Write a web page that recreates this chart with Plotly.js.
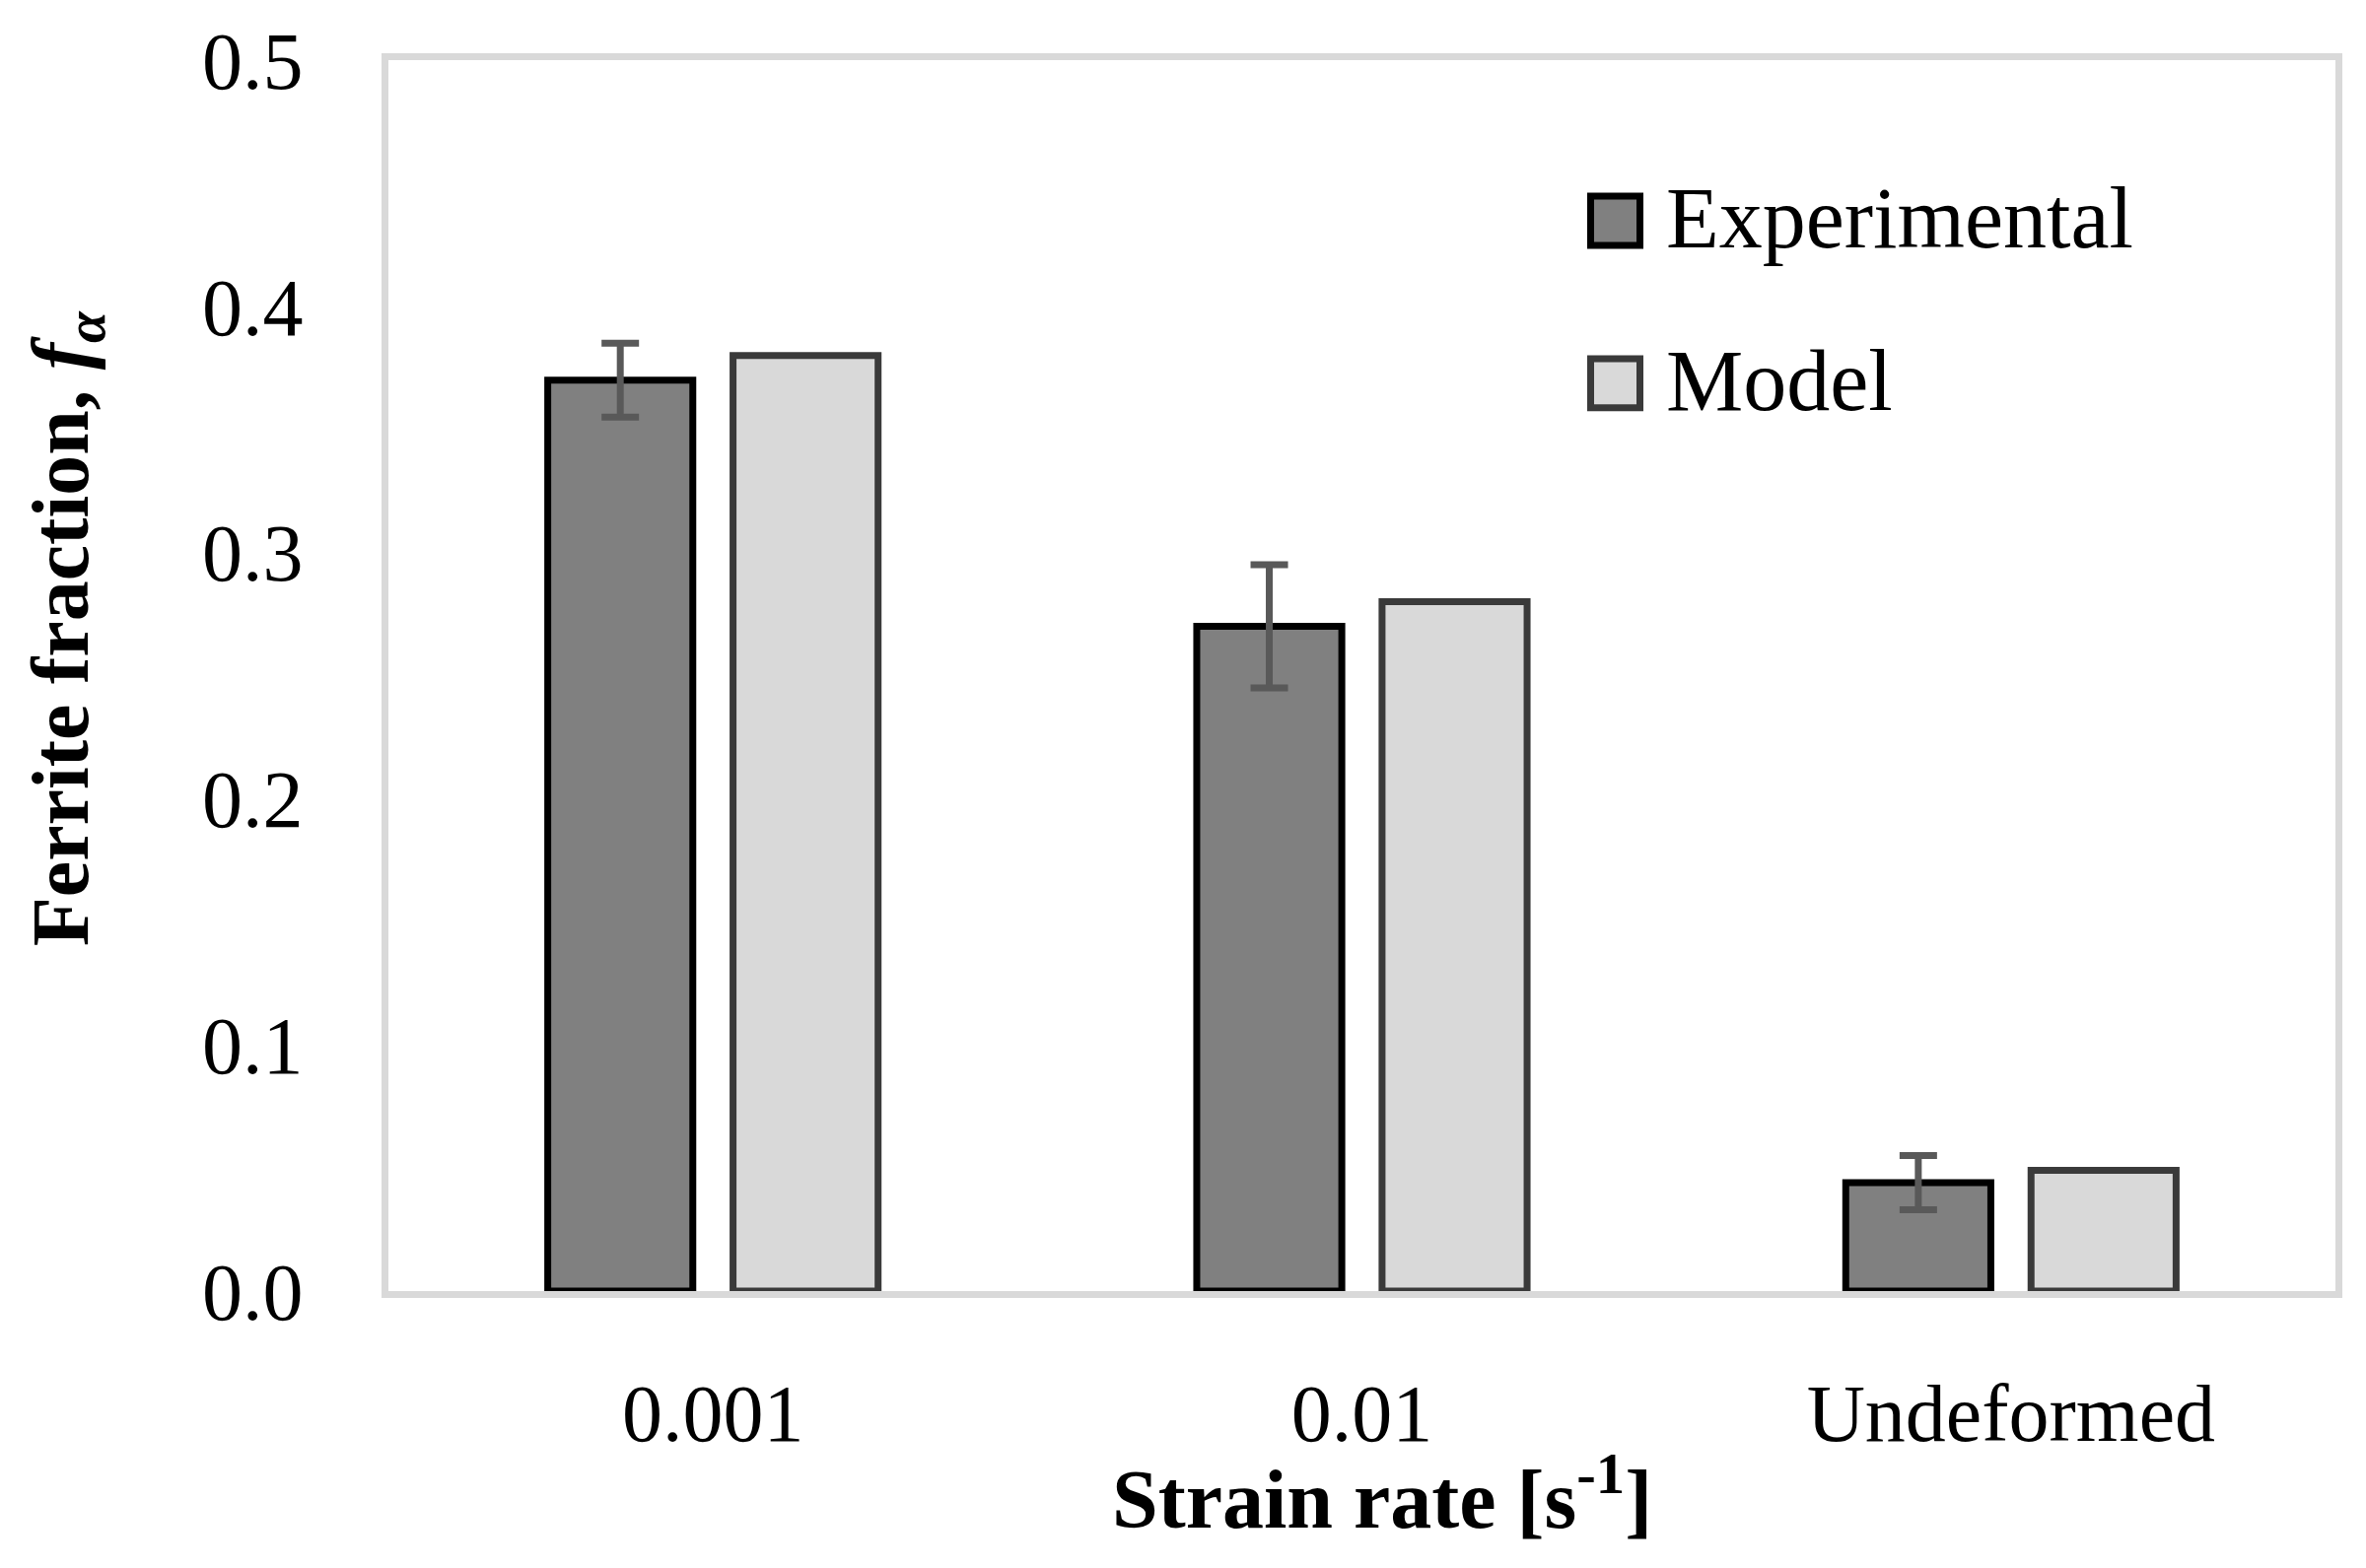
<!DOCTYPE html>
<html>
<head>
<meta charset="utf-8">
<script src="https://cdn.plot.ly/plotly-3.0.1.min.js"></script>
<style>html,body{margin:0;padding:0;background:#fff;}#chart{width:2400px;height:1591px;}</style>
</head>
<body>
<div id="chart"></div>
<script>
// ---- data ----
const categories = ['0.001', '0.01', 'Undeformed'];
const experimental = [0.37, 0.27, 0.044];
const experimentalErr = [0.015, 0.025, 0.011];
const model = [0.38, 0.28, 0.049];
const seriesNames = ['Experimental', 'Model'];
const yTicks = [0, 0.1, 0.2, 0.3, 0.4, 0.5];

// ---- layout geometry (pixels) ----
const W = 2400, H = 1591;
const L = 394, R = 2369, T = 60.5, B = 1310;
const px2x = X => (X - L) / (R - L);
const px2y = Y => (B - Y) / (B - T);
const FONT = 'Liberation Serif, Times New Roman, serif';

const traces = [
  {
    type: 'bar', name: seriesNames[0], x: categories, y: experimental,
    width: 0.2235, offset: -0.2545,
    marker: {color: '#808080', line: {color: '#000000', width: 7}},
    error_y: {type: 'data', array: experimentalErr, visible: true, color: '#595959', thickness: 7, width: 19},
    showlegend: false
  },
  {
    type: 'bar', name: seriesNames[1], x: categories, y: model,
    width: 0.2235, offset: 0.031,
    marker: {color: '#d9d9d9', line: {color: '#3a3a3a', width: 7}},
    showlegend: false
  }
];

const legendItems = [
  {name: seriesNames[0], fill: '#808080', stroke: '#000000', yc: 223.5},
  {name: seriesNames[1], fill: '#d9d9d9', stroke: '#3a3a3a', yc: 388.5}
];
const shapes = [];
const annotations = [];
legendItems.forEach(it => {
  shapes.push({type: 'rect', xref: 'paper', yref: 'paper',
    x0: px2x(1613.5), x1: px2x(1663.5), y0: px2y(it.yc - 25), y1: px2y(it.yc + 25),
    fillcolor: it.fill, line: {color: it.stroke, width: 7}});
  annotations.push({xref: 'paper', yref: 'paper', x: px2x(1688), y: px2y(it.yc - 2),
    xanchor: 'left', yanchor: 'middle', showarrow: false, text: it.name,
    font: {family: FONT, size: 88, color: '#000'}});
});
// axis titles
annotations.push({xref: 'paper', yref: 'paper', x: px2x(67), y: px2y(638),
  xanchor: 'center', yanchor: 'middle', showarrow: false, textangle: -90,
  text: '<b>Ferrite fraction, <i>f</i><sub><i>α</i></sub></b>',
  font: {family: FONT, size: 82, color: '#000'}});
annotations.push({xref: 'paper', yref: 'paper', x: px2x(1402), y: px2y(1516),
  xanchor: 'center', yanchor: 'middle', showarrow: false,
  text: '<b>Strain rate [s<sup>-1</sup>]</b>',
  font: {family: FONT, size: 84, color: '#000'}});

const layout = {
  width: W, height: H,
  margin: {l: L, r: W - R, t: T, b: H - B, pad: 0},
  paper_bgcolor: '#ffffff', plot_bgcolor: '#ffffff',
  barmode: 'group',
  font: {family: FONT, color: '#000'},
  xaxis: {
    type: 'category', categoryarray: categories, categoryorder: 'array',
    showgrid: false, zeroline: false, ticks: '',
    showline: true, mirror: true, linecolor: '#d9d9d9', linewidth: 7,
    tickfont: {family: FONT, size: 82, color: '#000'},
    ticklabelstandoff: 47,
    title: {text: ''}
  },
  yaxis: {
    range: [0, 0.5], tickvals: yTicks, tickformat: '.1f',
    showgrid: false, zeroline: false, ticks: '',
    showline: true, mirror: true, linecolor: '#d9d9d9', linewidth: 7,
    tickfont: {family: FONT, size: 82, color: '#000'},
    ticklabelstandoff: 63,
    title: {text: ''}
  },
  shapes: shapes,
  annotations: annotations
};

Plotly.newPlot('chart', traces, layout, {staticPlot: true, displayModeBar: false});
</script>
</body>
</html>
